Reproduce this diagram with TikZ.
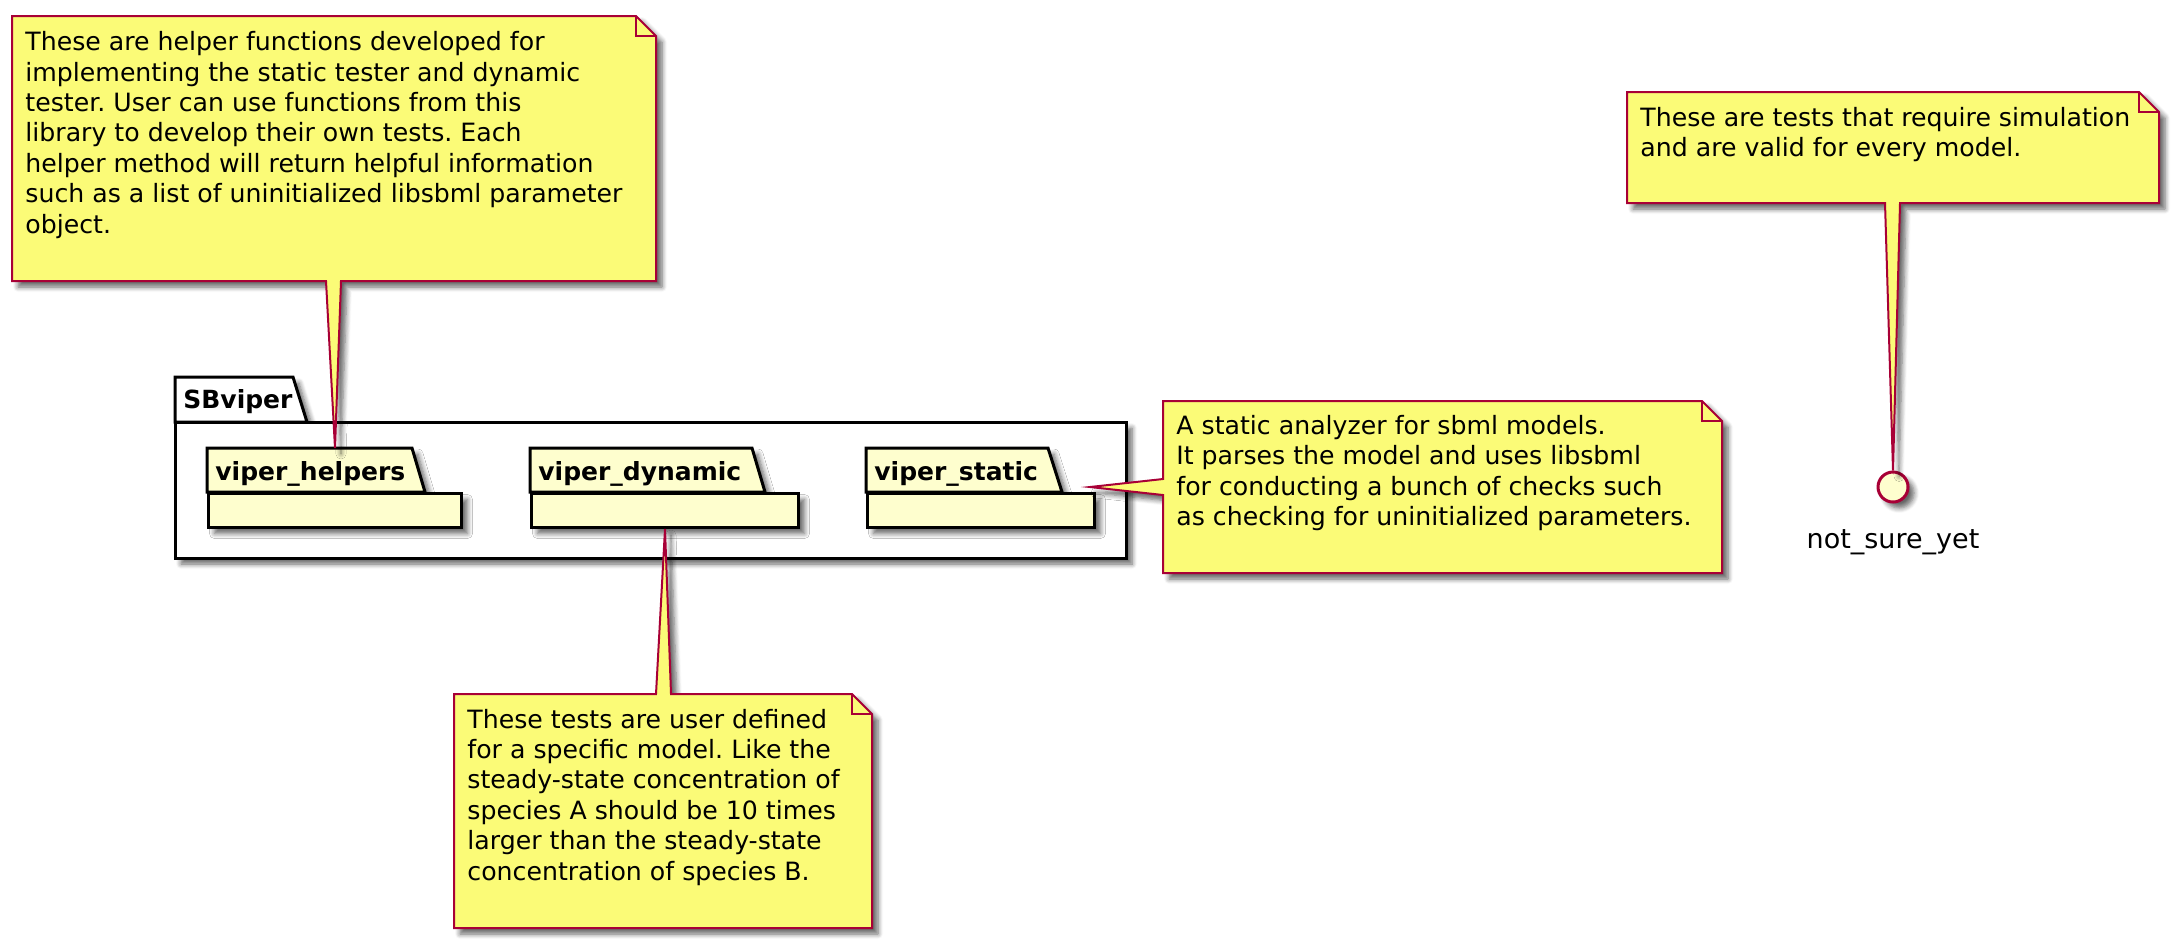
\documentclass[tikz,border=0pt]{standalone}
\usepackage{fontspec}
\setmainfont{DejaVu Sans}
\usetikzlibrary{shadows.blur}
\definecolor{notefill}{HTML}{FBFB77}
\definecolor{noteline}{HTML}{A80036}
\definecolor{pkgfill}{HTML}{FEFECE}
\tikzset{
  shd/.style={blur shadow={shadow xshift=3pt, shadow yshift=-3pt, shadow blur radius=2.5pt, shadow blur steps=6, shadow opacity=60}},
  notepath/.style={fill=notefill, draw=noteline, line width=1pt, shd},
  foldline/.style={draw=noteline, line width=1pt},
  pkgshape/.style={fill=pkgfill, draw=black, line width=1.5pt, shd},
  outershape/.style={fill=white, draw=black, line width=1.5pt, shd},
  notetext/.style={anchor=base west, align=left, inner sep=0pt, font=\fontsize{12.6}{15.2}\selectfont},
  pkglabel/.style={anchor=base west, inner sep=0pt, font=\bfseries\fontsize{12.5}{15}\selectfont},
  iface/.style={circle, draw=noteline, fill=pkgfill, line width=1.5pt, minimum size=15pt, inner sep=0pt, shd},
}
\frenchspacing
\begin{document}
\begin{tikzpicture}[x=0.5pt, y=-0.5pt, line join=miter]
\useasboundingbox (0,0) rectangle (2177,950);

% outer package SBviper
\path[outershape] (175,422) -- (175,377) -- (293,377) -- (307,422) -- cycle;
\path[outershape] (175,422) rectangle (1126,558);
\node[pkglabel] (sbl) at (183,408) {SBviper};

% inner packages
\path[pkgshape] (207,492) -- (207,448) -- (412,448) -- (425,492) -- cycle;
\node[pkgshape, draw, anchor=north west, minimum width=126.5pt, minimum height=17pt, inner sep=0pt] (helpers) at (207,492) {};
\node[pkglabel] (hl) at (215,480) {viper\_helpers};

\path[pkgshape] (530,492) -- (530,448) -- (752,448) -- (765,492) -- cycle;
\node[pkgshape, draw, anchor=north west, minimum width=133.5pt, minimum height=17pt, inner sep=0pt] (dynamic) at (530,492) {};
\node[pkglabel] (dl) at (538,480) {viper\_dynamic};

\path[pkgshape] (866,492) -- (866,448) -- (1048,448) -- (1062,492) -- cycle;
\node[pkgshape, draw, anchor=north west, minimum width=113.5pt, minimum height=17pt, inner sep=0pt] (static) at (866,492) {};
\node[pkglabel] (sl) at (874,480) {viper\_static};

% interface circle
\node[iface] (nsy) at (1893,487) {};
\node[anchor=base, inner sep=0pt, font=\fontsize{13.5}{16}\selectfont] (nsyl) at (1893,548) {not\_sure\_yet};

% tail tip coordinates
\coordinate (htip) at ($(helpers.north)+(0,-44)$);
\coordinate (dtip) at (dynamic.south);
\coordinate (stip) at (1090,487);
\coordinate (itip) at (nsy.north);

% note 1 (helpers)
\path[notepath] (12,16) -- (636,16) -- (656,36) -- (656,281) -- (341,281) -- (htip) -- (326,281) -- (12,281) -- cycle;
\path[foldline] (636,16) -- (636,36) -- (656,36);
\node[notetext] (n1) at (25,233) {These are helper functions developed for\\implementing the static tester and dynamic\\tester. User can use functions from this\\library to develop their own tests. Each\\helper method will return helpful information\\such as a list of uninitialized libsbml parameter\\object.};

% note static
\path[notepath] (1163,401) -- (1702,401) -- (1722,421) -- (1722,573) -- (1163,573) -- (1163,495) -- (stip) -- (1163,479) -- cycle;
\path[foldline] (1702,401) -- (1702,421) -- (1722,421);
\node[notetext] (n2) at (1176,525.7) {A static analyzer for sbml models.\\It parses the model and uses libsbml\\for conducting a bunch of checks such\\as checking for uninitialized parameters.};

% note dynamic
\path[notepath] (454,694) -- (656,694) -- (dtip) -- (671,694) -- (852,694) -- (872,714) -- (872,928) -- (454,928) -- cycle;
\path[foldline] (852,694) -- (852,714) -- (872,714);
\node[notetext] (n3) at (467,880) {These tests are user defined\\for a specific model. Like the\\steady-state concentration of\\species A should be 10 times\\larger than the steady-state\\concentration of species B.};

% note simulation
\path[notepath] (1627,92) -- (2139,92) -- (2159,112) -- (2159,203) -- (1900,203) -- (itip) -- (1885,203) -- (1627,203) -- cycle;
\path[foldline] (2139,92) -- (2139,112) -- (2159,112);
\node[notetext] (n4) at (1640,156.4) {These are tests that require simulation\\and are valid for every model.};
\end{tikzpicture}
\end{document}
